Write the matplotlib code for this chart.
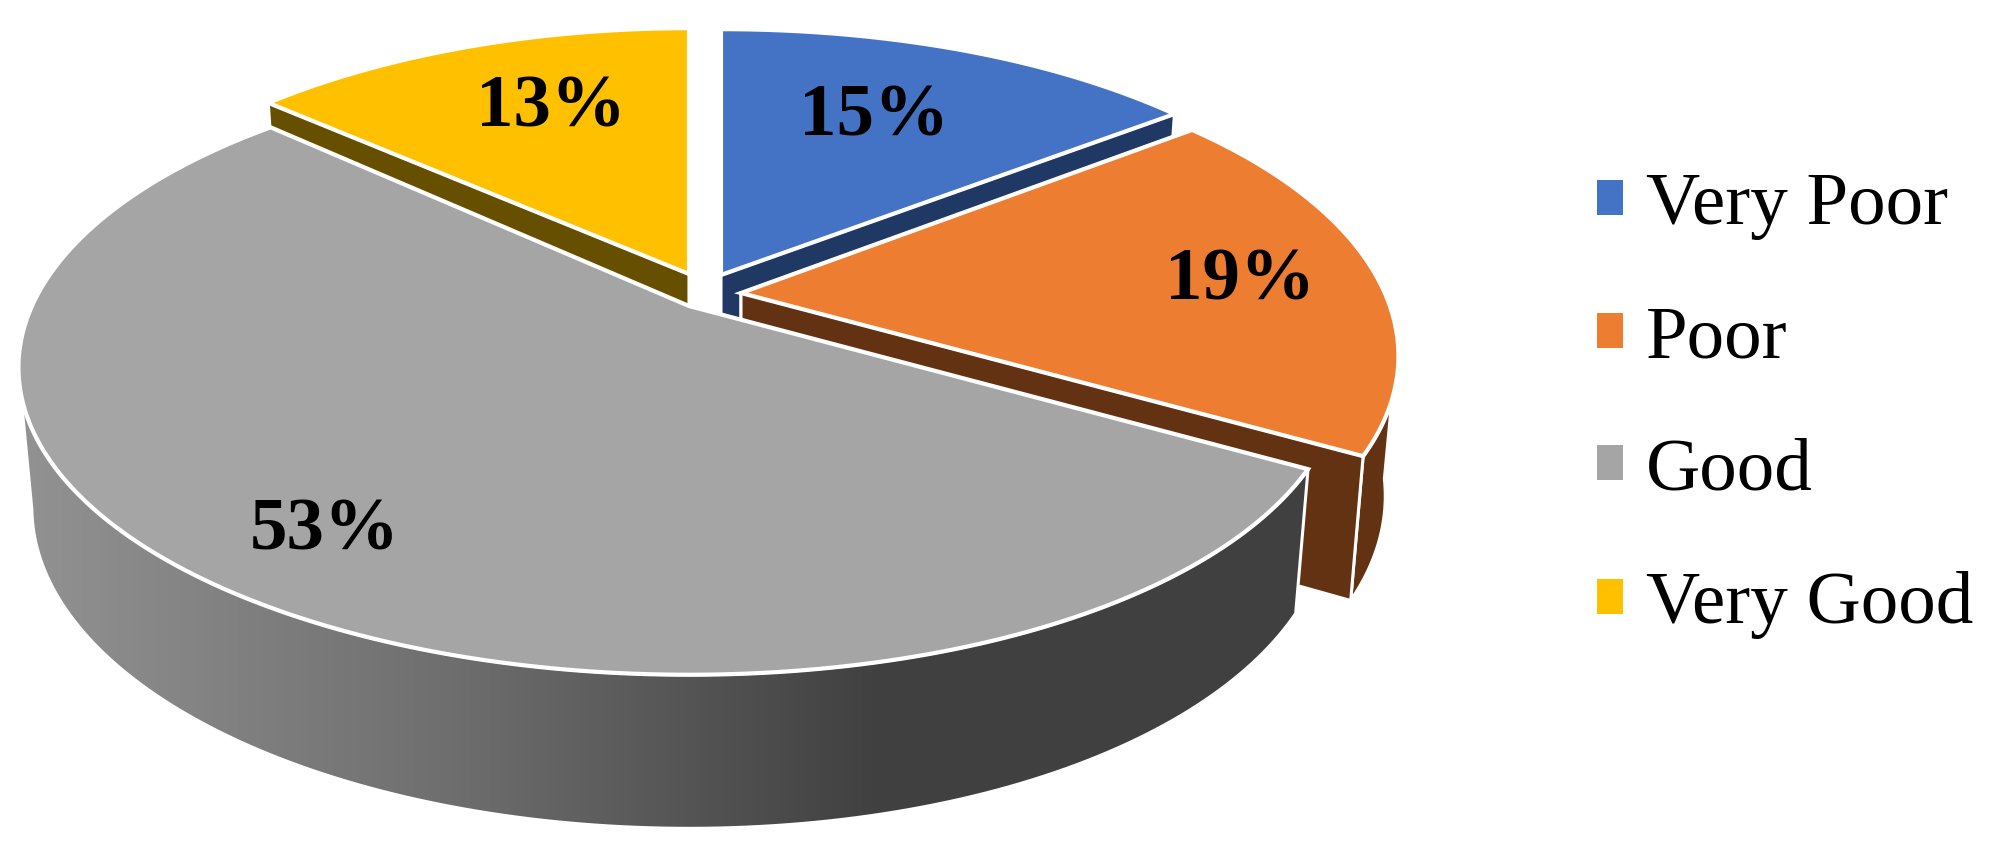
import numpy as np
import matplotlib
matplotlib.use("Agg")
import matplotlib.pyplot as plt
from matplotlib.patches import Polygon, Patch
from matplotlib.colors import LinearSegmentedColormap

# donnees du graphique
categories = ["Very Poor", "Poor", "Good", "Very Good"]
values = [15, 19, 53, 13]
colors_top = ["#4472C4", "#ED7D31", "#A5A5A5", "#FFC000"]
colors_side = ["#203864", "#633212", "#404040", "#665000"]

# geometrie de la fausse 3D, en pixels
RX, RY, K = 657, 295, 0.2
DEPTH, BOTTOM_X, BOTTOM_Y = 137, 0.98, 1.045
apex = {"Very Poor": (721, 275), "Poor": (741, 293), "Good": (689, 306), "Very Good": (689, 274)}
warp_right = {"Very Poor": 2.2, "Poor": 3.0, "Good": 3.0, "Very Good": 0.0}  # degres
warp_left = {"Very Poor": 0.0, "Poor": 0.0, "Good": -0.5, "Very Good": 3.0}
scale_x = {"Very Poor": 1.0, "Poor": 1.005, "Good": 1.0, "Very Good": 0.96}
label_pos = {"Very Poor": (874, 117), "Poor": (1240, 282), "Good": (325, 532), "Very Good": (551, 108)}

plt.rcParams["font.family"] = ["Liberation Serif", "DejaVu Serif"]

fig = plt.figure(figsize=(20, 8.5), dpi=100)
ax = fig.add_axes([0, 0, 1, 1])


def top_pts(name, theta):
    cx, cy = apex[name]
    c = np.cos(theta)
    th = theta + np.radians(warp_right[name] * np.maximum(c, 0) + warp_left[name] * np.maximum(-c, 0))
    u, v = np.cos(th), np.sin(th)
    s = 1 / (1 + K * v)
    sx = scale_x[name] * (1 - 0.025 * np.maximum(u, 0))
    return cx + RX * u * s * sx, cy - RY * v * s


def bot_pts(name, theta):
    cx, cy = apex[name]
    x, y = top_pts(name, theta)
    return cx + BOTTOM_X * (x - cx), cy + DEPTH + BOTTOM_Y * (y - cy)


def face(name, theta, color):
    cx, cy = apex[name]
    x, y = top_pts(name, theta)
    bx, by = bot_pts(name, theta)
    pts = [(cx, cy), (x, y), (bx, by), (cx, cy + DEPTH)]
    ax.add_patch(Polygon(pts, closed=True, fc=color, ec="white", lw=2.2, joinstyle="miter"))


angles = 90 - np.cumsum([0] + values) * 3.6

# ordre d'affichage : le gris passe devant tout le reste
order = [3, 0, 1, 2]
for i in order:
    name = categories[i]
    cx, cy = apex[name]
    t = np.radians(np.linspace(angles[i], angles[i + 1], 200))
    tx, ty = top_pts(name, t)

    # cote exterieur : seulement la partie tournee vers l'avant
    front = t[np.sin(t) <= -0.2]
    if len(front) > 0:
        tx2, ty2 = top_pts(name, front)
        bx2, by2 = bot_pts(name, front)
        side = np.column_stack([np.r_[tx2, bx2[::-1]], np.r_[ty2, by2[::-1]]])
    if name == "Good":
        poly = Polygon(side, closed=True, fc="none", ec="none")
        ax.add_patch(poly)
        ramp = LinearSegmentedColormap.from_list("ramp", ["#929292", "#6e6e6e", "#404040", "#404040"])
        im = ax.imshow(np.linspace(0, 1, 256)[None, :], cmap=ramp, aspect="auto",
                       extent=(22, 1310, 850, 0), zorder=1)
        im.set_clip_path(poly)
        ax.add_patch(Polygon(side, closed=True, fc="none", ec="white", lw=2.2, zorder=1.5))
        zt = 2
    else:
        if len(front) > 0:
            ax.add_patch(Polygon(side, closed=True, fc=colors_side[i], ec="white", lw=2.2))
        face(name, t[0], colors_side[i])
        face(name, t[-1], colors_side[i])
        zt = 1

    # dessus
    top = np.vstack([[cx, cy], np.column_stack([tx, ty])])
    ax.add_patch(Polygon(top, closed=True, fc=colors_top[i], ec="white", lw=3,
                         joinstyle="miter", zorder=zt))

for name, v in zip(categories, values):
    x, y = label_pos[name]
    ax.text(x, y, f"{v}%", ha="center", va="center", fontsize=54, fontweight="bold",
            color="black", zorder=5)

handles = [Patch(fc=c, ec="none", label=n) for c, n in zip(colors_top, categories)]
ax.legend(handles=handles, loc="center left", bbox_to_anchor=(0.7985, 0.5225), frameon=False,
          fontsize=54, handlelength=0.34, handleheight=0.34, handletextpad=0.31,
          labelspacing=0.87, borderpad=0, borderaxespad=0)

ax.set_xlim(0, 2000)
ax.set_ylim(850, 0)
ax.axis("off")
fig.savefig("out.png", dpi=100, facecolor="white")
